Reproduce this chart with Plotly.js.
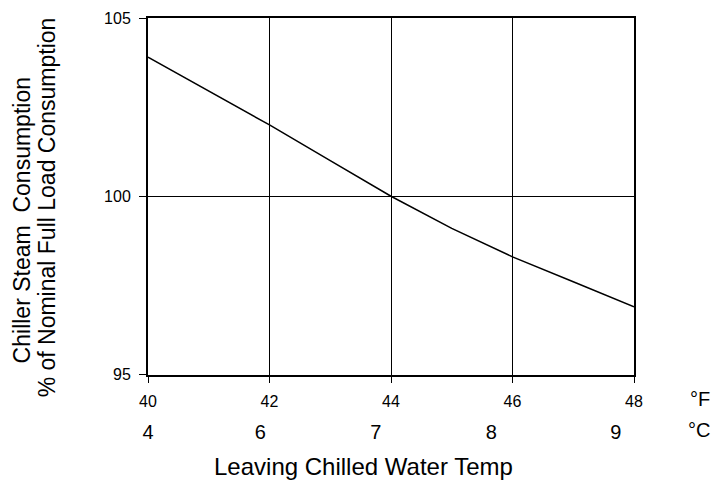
<!DOCTYPE html>
<html>
<head>
<meta charset="utf-8">
<script src="https://cdn.plot.ly/plotly-3.0.1.min.js"></script>
<style>html,body{margin:0;padding:0;background:#fff;}#chart{width:714px;height:480px;}</style>
</head>
<body>
<div id="chart"></div>
<script>
// Data
const tempF = [40, 41, 42, 43, 44, 45, 46, 47, 48];
const steamPct = [103.9, 102.95, 102.0, 101.0, 100.0, 99.1, 98.3, 97.6, 96.9];
const fTicks = [40, 42, 44, 46, 48];
const yTicks = [95, 100, 105];
const cLabels = ['4', '6', '7', '8', '9'];
const cLabelPosF = [40, 41.85, 43.75, 45.65, 47.7];
const xTitle = 'Leaving Chilled Water Temp';
const yTitle1 = 'Chiller Steam\u00a0 Consumption';
const yTitle2 = '% of Nominal Full Load Consumption';
const unitF = '°F';
const unitC = '°C';

const FONT = 'Liberation Sans, Arial, sans-serif';
const W = 714, H = 480;
const mL = 147.7, mR = 80, mT = 18, mB = 70;
const plotBottomPx = 374.5;
const paperH = H - mT - mB;
const yDomStart = (H - mB - plotBottomPx) / paperH;
const paperW = W - mL - mR;
const px2x = px => (px - mL) / paperW;
const px2y = py => (H - mB - py) / paperH;

const trace = {
  x: tempF, y: steamPct, type: 'scatter', mode: 'lines',
  line: {color: '#000', width: 1.5}, hoverinfo: 'skip', showlegend: false
};
const dummy = {
  x: tempF, y: steamPct, xaxis: 'x2', yaxis: 'y', type: 'scatter', mode: 'lines',
  line: {width: 0}, opacity: 0, hoverinfo: 'skip', showlegend: false
};

const layout = {
  width: W, height: H,
  margin: {l: mL, r: mR, t: mT, b: mB, pad: 0},
  paper_bgcolor: '#fff', plot_bgcolor: '#fff',
  font: {family: FONT, color: '#000'},
  xaxis: {
    range: [40, 48], tickvals: fTicks, ticktext: fTicks.map(String),
    ticks: 'outside', ticklen: 6, tickwidth: 1, tickcolor: '#000',
    showgrid: true, gridcolor: '#000', gridwidth: 1,
    showline: true, linecolor: '#000', linewidth: 2, mirror: true,
    zeroline: false, anchor: 'y',
    tickfont: {family: FONT, size: 16, color: '#000'},
    ticklabelstandoff: 5
  },
  xaxis2: {
    range: [40, 48], overlaying: 'x', anchor: 'free', position: 0, side: 'bottom',
    tickvals: cLabelPosF, ticktext: cLabels, ticks: '', showgrid: false,
    showline: false, zeroline: false,
    tickfont: {family: FONT, size: 20, color: '#000'},
    ticklabelstandoff: 8
  },
  yaxis: {
    range: [95, 105], domain: [yDomStart, 1], tickvals: yTicks,
    ticks: 'outside', ticklen: 7, tickwidth: 1, tickcolor: '#000',
    showgrid: true, gridcolor: '#000', gridwidth: 1,
    showline: true, linecolor: '#000', linewidth: 2, mirror: true,
    zeroline: false,
    tickfont: {family: FONT, size: 16, color: '#000'},
    ticklabelstandoff: 5
  },
  annotations: [
    {text: unitF, xref: 'paper', yref: 'paper', x: px2x(700), y: px2y(399),
     xanchor: 'center', yanchor: 'middle', showarrow: false,
     font: {family: FONT, size: 20, color: '#000'}},
    {text: unitC, xref: 'paper', yref: 'paper', x: px2x(699), y: px2y(430),
     xanchor: 'center', yanchor: 'middle', showarrow: false,
     font: {family: FONT, size: 20, color: '#000'}},
    {text: xTitle, xref: 'paper', yref: 'paper', x: px2x(363.5), y: px2y(466),
     xanchor: 'center', yanchor: 'middle', showarrow: false,
     font: {family: FONT, size: 24, color: '#000'}},
    {text: yTitle1, xref: 'paper', yref: 'paper', x: px2x(22), y: px2y(220),
     xanchor: 'center', yanchor: 'middle', showarrow: false, textangle: -90,
     font: {family: FONT, size: 23, color: '#000'}},
    {text: yTitle2, xref: 'paper', yref: 'paper', x: px2x(47), y: px2y(207),
     xanchor: 'center', yanchor: 'middle', showarrow: false, textangle: -90,
     font: {family: FONT, size: 23, color: '#000'}}
  ]
};

Plotly.newPlot('chart', [trace, dummy], layout, {staticPlot: true, displayModeBar: false});
</script>
</body>
</html>
